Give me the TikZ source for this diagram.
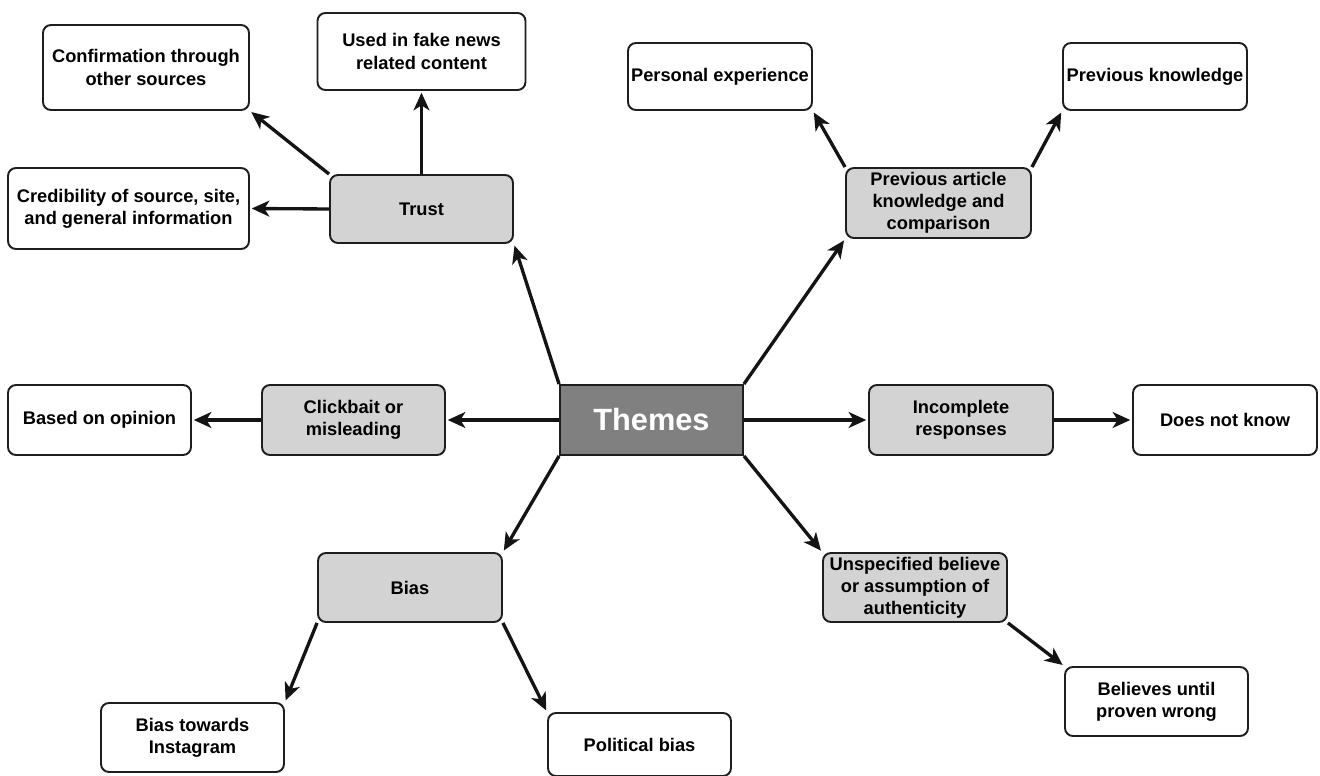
\documentclass[tikz,border=0pt]{standalone}
\usepackage{fontspec}
\setmainfont{Liberation Sans}
\usetikzlibrary{arrows.meta}
\definecolor{boxline}{HTML}{1E1E1E}
\definecolor{subfill}{HTML}{D3D3D3}
\definecolor{hubfill}{HTML}{808080}
\begin{document}
\begin{tikzpicture}[x=0.02cm,y=-0.02cm,
  leaf/.style={draw=boxline, line width=1.1pt, rounded corners=4.5pt, fill=white,
    align=center, inner sep=0pt, font=\fontsize{10.4}{12.6}\selectfont\bfseries},
  theme/.style={leaf, fill=subfill},
  hub/.style={draw=boxline, line width=1.1pt, fill=hubfill, text=white,
    inner sep=0pt, font=\fontsize{17.5}{20}\selectfont\bfseries},
  link/.style={line width=1.9pt, draw=black!92,
    -{Stealth[length=10pt,width=9pt,inset=2.8pt]}, shorten >=1pt}]
\useasboundingbox (0,0) rectangle (1320,776);

% central hub
\node[hub, minimum width=3.66cm, minimum height=1.4cm] (themes) at (651.5,420) {Themes};

% Trust branch
\node[theme, minimum width=3.66cm, minimum height=1.36cm] (trust) at (421.5,209) {Trust};
\node[leaf, minimum width=4.12cm, minimum height=1.7cm] (conf) at (146,67.5) {Confirmation through\\other sources};
\node[leaf, minimum width=4.16cm, minimum height=1.54cm] (fake) at (421.5,51.5) {Used in fake news\\related content};
\node[leaf, minimum width=4.82cm, minimum height=1.62cm] (cred) at (128.5,208.5) {Credibility of source, site,\\and general information};

% Previous article branch
\node[theme, minimum width=3.7cm, minimum height=1.4cm] (prevart) at (938.5,203) {Previous article\\knowledge and\\comparison};
\node[leaf, minimum width=3.68cm, minimum height=1.34cm] (pers) at (720,76.5) {Personal experience};
\node[leaf, minimum width=3.68cm, minimum height=1.34cm] (prevk) at (1155,76.5) {Previous knowledge};

% Clickbait branch
\node[theme, minimum width=3.66cm, minimum height=1.4cm] (click) at (353.5,420) {Clickbait or\\misleading};
\node[leaf, minimum width=3.66cm, minimum height=1.4cm] (opinion) at (99.5,420) {Based on opinion};

% Incomplete branch
\node[theme, minimum width=3.68cm, minimum height=1.4cm] (incomp) at (961,420) {Incomplete\\responses};
\node[leaf, minimum width=3.68cm, minimum height=1.4cm] (dnk) at (1225,420) {Does not know};

% Bias branch
\node[theme, minimum width=3.68cm, minimum height=1.38cm] (bias) at (410,587.5) {Bias};
\node[leaf, minimum width=3.66cm, minimum height=1.38cm] (insta) at (192.5,737.5) {Bias towards\\Instagram};
\node[leaf, minimum width=3.66cm, minimum height=1.26cm] (polit) at (639.5,744.5) {Political bias};

% Unspecified belief branch
\node[theme, minimum width=3.68cm, minimum height=1.38cm] (unspec) at (915,587.5) {Unspecified believe\\or assumption of\\authenticity};
\node[leaf, minimum width=3.66cm, minimum height=1.38cm] (believes) at (1156.5,701.5) {Believes until\\proven wrong};

% connectors
\draw[link] (themes.north west) -- (trust.south east);
\draw[link] (trust.north) -- (fake.south);
\draw[link] (trust.north west) -- (conf.south east);
\draw[link] (trust.west) -- (cred.east);

\draw[link] (themes.north east) -- (prevart.south west);
\draw[link] (prevart.north west) -- (pers.south east);
\draw[link] (prevart.north east) -- (prevk.south west);

\draw[link] (themes.west) -- (click.east);
\draw[link] (click.west) -- (opinion.east);

\draw[link] (themes.east) -- (incomp.west);
\draw[link] (incomp.east) -- (dnk.west);

\draw[link] (themes.south west) -- (bias.north east);
\draw[link] (bias.south west) -- (insta.north east);
\draw[link] (bias.south east) -- (polit.north west);

\draw[link] (themes.south east) -- (unspec.north west);
\draw[link] (unspec.south east) -- (believes.north west);
\end{tikzpicture}
\end{document}
